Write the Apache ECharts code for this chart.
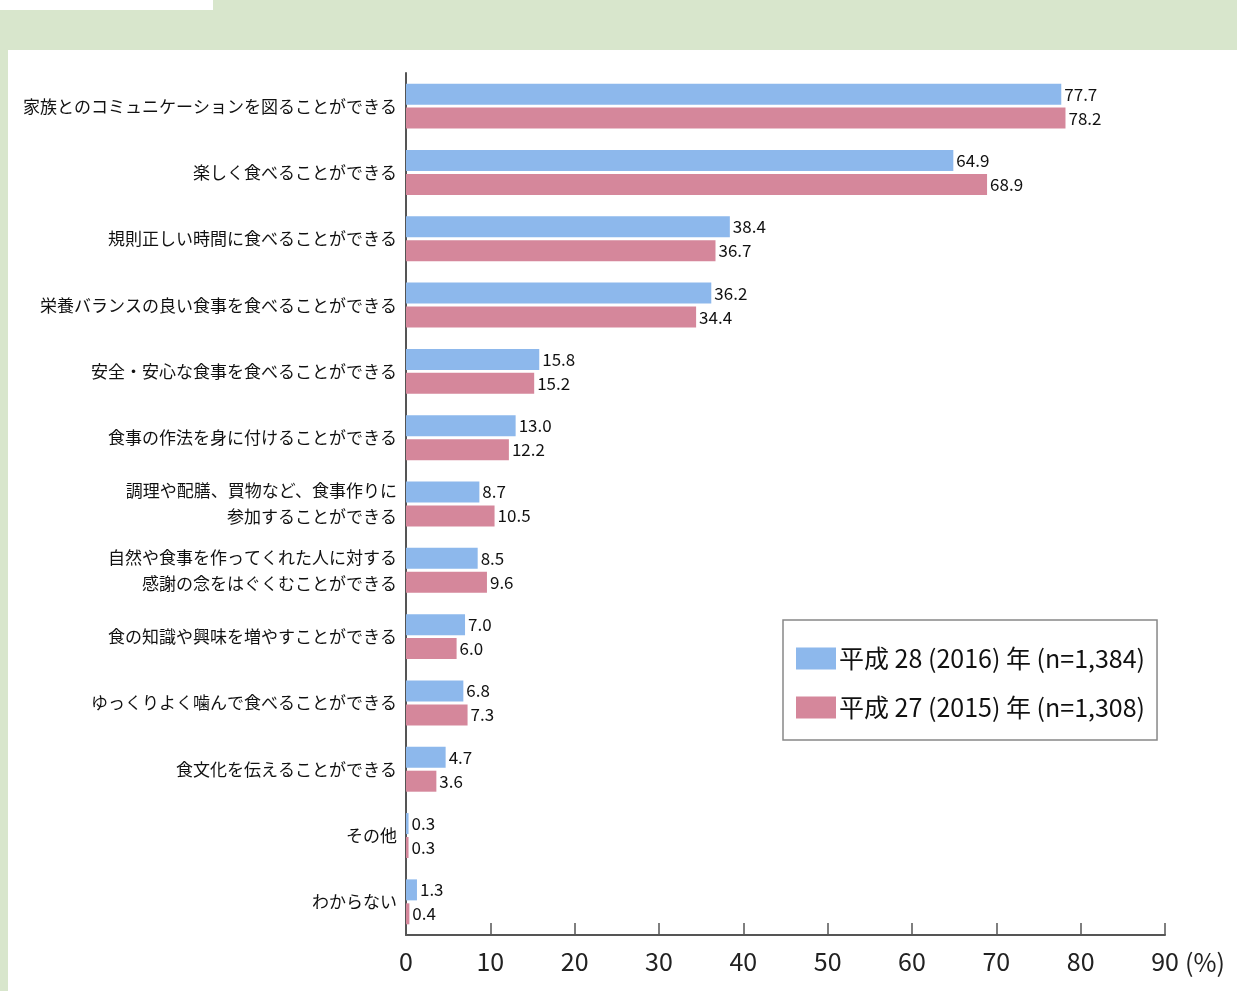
<!DOCTYPE html>
<html>
<head>
<meta charset="utf-8">
<title>共食の利点</title>
<script src="https://cdn.jsdelivr.net/npm/echarts@6/dist/echarts.min.js"></script>
<style>
  html, body { margin: 0; padding: 0; width: 1237px; height: 991px; overflow: hidden; background: #d8e6cc; }
  #corner { position: absolute; left: 0; top: 0; width: 213px; height: 10px; background: #ffffff; }
  #panel { position: absolute; left: 8px; top: 50px; right: 0; bottom: 0; background: #ffffff; }
  #chart { position: absolute; left: 0; top: 0; width: 1237px; height: 991px; }
</style>
</head>
<body>
<div id="corner"></div>
<div id="panel"></div>
<div id="chart"></div>
<script>
// 共食の良いところ（複数回答）
const categories = [
  '家族とのコミュニケーションを図ることができる',
  '楽しく食べることができる',
  '規則正しい時間に食べることができる',
  '栄養バランスの良い食事を食べることができる',
  '安全・安心な食事を食べることができる',
  '食事の作法を身に付けることができる',
  '調理や配膳、買物など、食事作りに\n参加することができる',
  '自然や食事を作ってくれた人に対する\n感謝の念をはぐくむことができる',
  '食の知識や興味を増やすことができる',
  'ゆっくりよく噛んで食べることができる',
  '食文化を伝えることができる',
  'その他',
  'わからない'
];
const seriesNames = ['平成 28 (2016) 年 (n=1,384)', '平成 27 (2015) 年 (n=1,308)'];
const values2016 = [77.7, 64.9, 38.4, 36.2, 15.8, 13.0, 8.7, 8.5, 7.0, 6.8, 4.7, 0.3, 1.3];
const values2015 = [78.2, 68.9, 36.7, 34.4, 15.2, 12.2, 10.5, 9.6, 6.0, 7.3, 3.6, 0.3, 0.4];
const xTicks = [0, 10, 20, 30, 40, 50, 60, 70, 80, 90];

const FONT = '"Noto Sans CJK JP", "Noto Sans", sans-serif';
const colors = ['#8db8ec', '#d5879b'];

const chart = echarts.init(document.getElementById('chart'), null, { renderer: 'canvas' });

const valueLabel = {
  show: true,
  position: 'right',
  distance: 3,
  fontFamily: FONT,
  fontSize: 17,
  color: '#111',
  formatter: p => p.value.toFixed(1)
};

chart.setOption({
  backgroundColor: 'transparent',
  animation: false,
  textStyle: { fontFamily: FONT },
  grid: { left: 406, right: 72, top: 73, bottom: 56, containLabel: false },
  legend: {
    orient: 'vertical',
    left: 783,
    top: 620,
    padding: [26, 12, 20, 13],
    itemWidth: 40,
    itemHeight: 22,
    itemGap: 24,
    borderColor: '#888',
    borderWidth: 1.5,
    backgroundColor: '#fff',
    icon: 'rect',
    textStyle: { fontFamily: FONT, fontSize: 25, color: '#111', padding: [0, 0, 0, -2] },
    data: seriesNames
  },
  xAxis: {
    type: 'value',
    min: xTicks[0],
    max: xTicks[xTicks.length - 1],
    interval: 10,
    splitLine: { show: false },
    axisLine: { show: true, lineStyle: { color: '#555', width: 2 } },
    axisTick: { show: true, inside: true, length: 12, lineStyle: { color: '#555', width: 1.5 } },
    axisLabel: {
      fontFamily: FONT, fontSize: 25, color: '#222', margin: 14,
      formatter: v => (xTicks.indexOf(v) >= 0 ? String(v) : '')
    }
  },
  yAxis: {
    type: 'category',
    data: categories,
    inverse: true,
    axisLine: { show: true, lineStyle: { color: '#555', width: 2 } },
    axisTick: { show: false },
    axisLabel: {
      fontFamily: FONT, fontSize: 17, color: '#111', margin: 9, lineHeight: 26, align: 'right'
    }
  },
  graphic: [{
    type: 'text',
    left: 1185,
    top: 950,
    style: { text: '(%)', font: '25px ' + FONT, fill: '#222' }
  }],
  series: [
    {
      name: seriesNames[0],
      type: 'bar',
      data: values2016,
      barWidth: 21,
      barGap: '14%',
      itemStyle: { color: colors[0] },
      label: valueLabel
    },
    {
      name: seriesNames[1],
      type: 'bar',
      data: values2015,
      barWidth: 21,
      barGap: '14%',
      itemStyle: { color: colors[1] },
      label: valueLabel
    }
  ]
});
</script>
</body>
</html>
